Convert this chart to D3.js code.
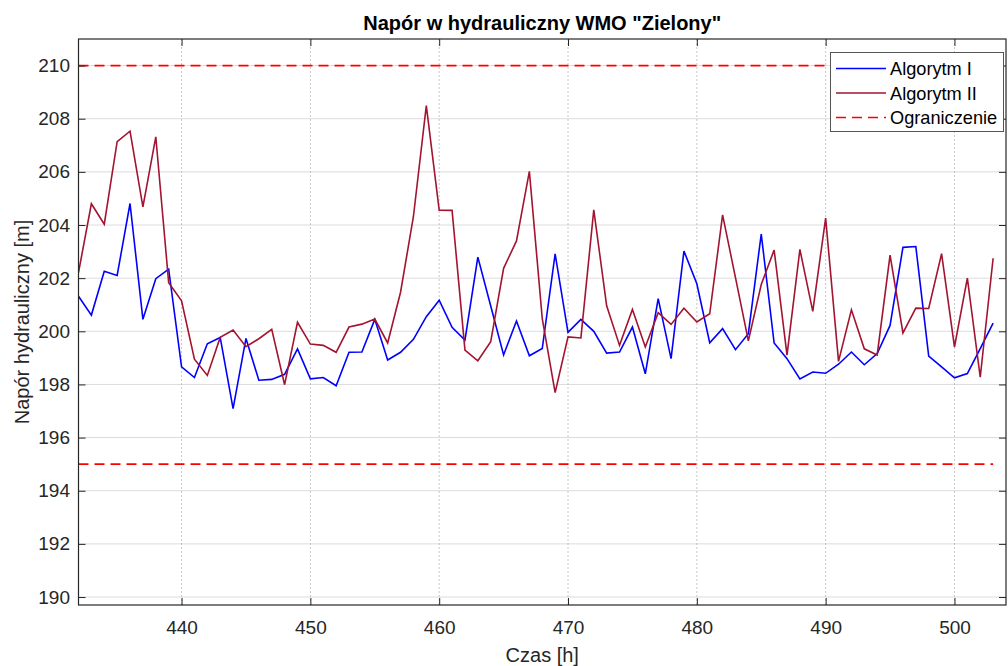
<!DOCTYPE html>
<html><head><meta charset="utf-8">
<script src="https://cdn.jsdelivr.net/npm/d3@7"></script>
<style>
body{margin:0;background:#fff;}
svg text{font-family:Arial,"Liberation Sans",Helvetica,sans-serif;}
</style></head>
<body><svg id="chart" width="1008" height="666"></svg>
<script>
const hours = d3.range(432, 504);
const algorytm1 = [201.32,200.61,202.26,202.10,204.81,200.45,201.98,202.34,198.66,198.26,
199.53,199.77,197.09,199.73,198.16,198.19,198.38,199.34,198.21,198.26,
197.95,199.21,199.22,200.45,198.92,199.21,199.70,200.55,201.17,200.15,
199.67,202.79,200.95,199.11,200.39,199.08,199.35,202.91,199.96,200.45,
200.00,199.18,199.22,200.16,198.40,201.23,198.97,203.02,201.79,199.57,
200.10,199.31,199.91,203.66,199.56,198.97,198.21,198.47,198.42,198.76,
199.22,198.74,199.16,200.22,203.16,203.19,199.07,198.66,198.25,198.41,
199.35,200.31];
const algorytm2 = [202.21,204.80,204.03,207.14,207.53,204.68,207.32,201.83,201.15,198.95,
198.34,199.77,200.05,199.42,199.72,200.07,197.99,200.34,199.52,199.47,
199.21,200.16,200.27,200.46,199.56,201.47,204.32,208.49,204.56,204.55,
199.29,198.89,199.61,202.37,203.40,206.02,200.48,197.69,199.79,199.75,
204.57,200.96,199.47,200.82,199.41,200.70,200.26,200.87,200.35,200.66,
204.38,202.02,199.64,201.76,203.06,199.10,203.08,200.75,204.26,198.87,
200.81,199.34,199.11,202.87,199.94,200.87,200.86,202.92,199.41,202.00,
198.27,202.75];
const limitUpper = hours.map(() => 210);
const limitLower = hours.map(() => 195);
const xTicks = [440,450,460,470,480,490,500];
const yTicks = [190,192,194,196,198,200,202,204,206,208,210];
const seriesNames = ["Algorytm I","Algorytm II","Ograniczenie"];

const L = 78.5, R = 1006, T = 39, B = 605;
const svg = d3.select("#chart");
const x = d3.scaleLinear().domain([432, 504]).range([L, R]);
const y = d3.scaleLinear().domain([189.7, 211]).range([B, T]);
const axisColor = "#262626";

// grid
const grid = svg.append("g");
grid.selectAll("line.gx").data(xTicks).join("line")
  .attr("x1", d => x(d)).attr("x2", d => x(d)).attr("y1", T).attr("y2", B)
  .attr("stroke", "#c8c8c8").attr("stroke-width", 1).attr("stroke-dasharray", "2,2");
grid.selectAll("line.gy").data(yTicks).join("line")
  .attr("x1", L).attr("x2", R).attr("y1", d => y(d)).attr("y2", d => y(d))
  .attr("stroke", "#b8b8b8").attr("stroke-width", 1).attr("stroke-dasharray", "1,1");

// series
const line = d3.line().x((d, i) => x(hours[i])).y(d => y(d));
svg.append("clipPath").attr("id", "clip").append("rect")
  .attr("x", L).attr("y", T).attr("width", R - L).attr("height", B - T);
const plot = svg.append("g").attr("clip-path", "url(#clip)");
plot.append("path").datum(limitUpper).attr("d", line).attr("fill", "none")
  .attr("stroke", "#ff0000").attr("stroke-width", 1.7).attr("stroke-dasharray", "10,6");
plot.append("path").datum(limitLower).attr("d", line).attr("fill", "none")
  .attr("stroke", "#ff0000").attr("stroke-width", 1.7).attr("stroke-dasharray", "10,6");
plot.append("path").datum(algorytm1).attr("d", line).attr("fill", "none")
  .attr("stroke", "#0000ff").attr("stroke-width", 1.6).attr("stroke-linejoin", "miter");
plot.append("path").datum(algorytm2).attr("d", line).attr("fill", "none")
  .attr("stroke", "#a2142f").attr("stroke-width", 1.6).attr("stroke-linejoin", "miter");

// axes (ticks inward, box)
const fontSize = 19;
const xAxis = d3.axisBottom(x).tickValues(xTicks).tickSizeInner(-7).tickSizeOuter(0).tickPadding(16);
const gx = svg.append("g").attr("transform", `translate(0,${B})`).call(xAxis);
const gxTop = svg.append("g").attr("transform", `translate(0,${T})`)
  .call(d3.axisTop(x).tickValues(xTicks).tickSizeInner(-7).tickSizeOuter(0).tickFormat(""));
const yAxis = d3.axisLeft(y).tickValues(yTicks).tickSizeInner(-7).tickSizeOuter(0).tickPadding(8.5);
const gy = svg.append("g").attr("transform", `translate(${L},0)`).call(yAxis);
const gyR = svg.append("g").attr("transform", `translate(${R},0)`)
  .call(d3.axisRight(y).tickValues(yTicks).tickSizeInner(-7).tickSizeOuter(0).tickFormat(""));
[gx, gxTop, gy, gyR].forEach(g => {
  g.select(".domain").remove();
  g.selectAll("line").attr("stroke", axisColor);
  g.selectAll("text").attr("fill", axisColor).attr("font-size", fontSize)
    .attr("font-family", "Arial, 'Liberation Sans', sans-serif");
});
svg.append("rect").attr("x", L).attr("y", T).attr("width", R - L).attr("height", B - T)
  .attr("fill", "none").attr("stroke", axisColor).attr("stroke-width", 1.2);

// labels
svg.append("text").attr("x", (L + R) / 2).attr("y", 30).attr("text-anchor", "middle")
  .attr("font-size", 20).attr("font-weight", "bold").attr("fill", "#000")
  .text('Napór w hydrauliczny WMO "Zielony"');
svg.append("text").attr("x", (L + R) / 2).attr("y", 662).attr("text-anchor", "middle")
  .attr("font-size", 20).attr("fill", axisColor).text("Czas [h]");
svg.append("text").attr("transform", `translate(29,${(T + B) / 2}) rotate(-90)`)
  .attr("text-anchor", "middle").attr("font-size", 20).attr("fill", axisColor)
  .text("Napór hydrauliczny [m]");

// legend
const lg = svg.append("g");
lg.append("rect").attr("x", 830.5).attr("y", 52.5).attr("width", 173).attr("height", 79)
  .attr("fill", "#fff").attr("stroke", "#555").attr("stroke-width", 1);
const legendStyles = [
  {c: "#0000ff", d: null, w: 1.6},
  {c: "#a2142f", d: null, w: 1.6},
  {c: "#ff0000", d: "10,6", w: 1.7}
];
seriesNames.forEach((n, i) => {
  const yy = 68.5 + i * 24.5;
  lg.append("line").attr("x1", 836).attr("x2", 886).attr("y1", yy).attr("y2", yy)
    .attr("stroke", legendStyles[i].c).attr("stroke-width", legendStyles[i].w)
    .attr("stroke-dasharray", legendStyles[i].d);
  lg.append("text").attr("x", 890).attr("y", yy + 6.5).attr("font-size", 18.2)
    .attr("fill", "#000").text(n);
});
</script></body></html>
